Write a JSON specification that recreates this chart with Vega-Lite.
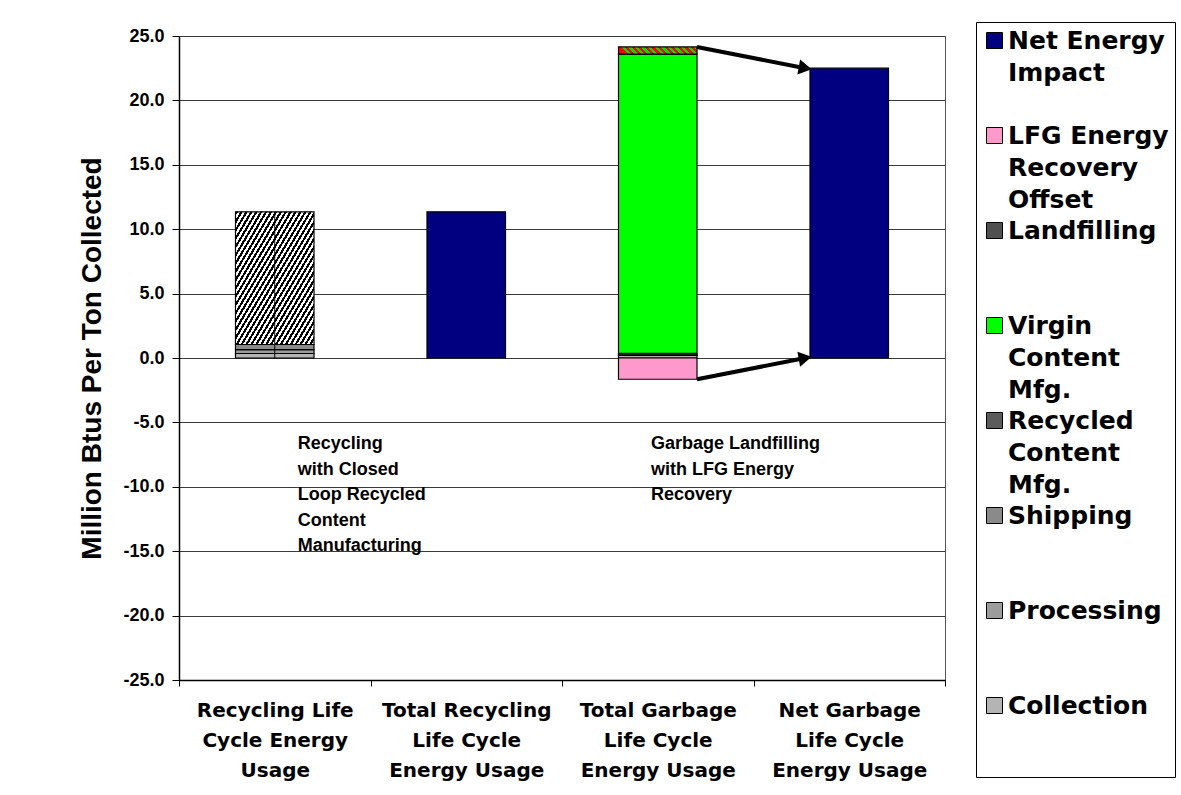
{
  "$schema": "https://vega.github.io/schema/vega-lite/v6.json",
  "width": 766,
  "height": 644,
  "autosize": {"type": "none"},
  "padding": {"left": 179, "top": 36, "right": 236, "bottom": 115},
  "background": "white",
  "datasets": {
    "energy": [
      {"stage": "Recycling Life Cycle Energy Usage", "series": "Collection", "k": 1, "value": 0.35},
      {"stage": "Recycling Life Cycle Energy Usage", "series": "Processing", "k": 2, "value": 0.3},
      {"stage": "Recycling Life Cycle Energy Usage", "series": "Shipping", "k": 3, "value": 0.4},
      {"stage": "Recycling Life Cycle Energy Usage", "series": "Recycled Content Mfg.", "k": 4, "value": 10.3},
      {"stage": "Total Recycling Life Cycle Energy Usage", "series": "Net Energy Impact", "k": 8, "value": 11.35},
      {"stage": "Total Garbage Life Cycle Energy Usage", "series": "Collection", "k": 1, "value": 0.2},
      {"stage": "Total Garbage Life Cycle Energy Usage", "series": "Processing", "k": 2, "value": 0.05},
      {"stage": "Total Garbage Life Cycle Energy Usage", "series": "Shipping", "k": 3, "value": 0.12},
      {"stage": "Total Garbage Life Cycle Energy Usage", "series": "Virgin Content Mfg.", "k": 5, "value": 23.23},
      {"stage": "Total Garbage Life Cycle Energy Usage", "series": "Landfilling", "k": 6, "value": 0.55},
      {"stage": "Total Garbage Life Cycle Energy Usage", "series": "LFG Energy Recovery Offset", "k": 7, "value": -1.65},
      {"stage": "Net Garbage Life Cycle Energy Usage", "series": "Net Energy Impact", "k": 8, "value": 22.5}
    ],
    "arrows": [
      {"from": "Total Garbage Life Cycle Energy Usage", "to": "Net Garbage Life Cycle Energy Usage", "v0": 24.15, "v1": 22.5},
      {"from": "Total Garbage Life Cycle Energy Usage", "to": "Net Garbage Life Cycle Energy Usage", "v0": -1.65, "v1": 0}
    ],
    "notes": [
      {"stage": "Recycling Life Cycle Energy Usage", "note": "Recycling\nwith Closed\nLoop Recycled\nContent\nManufacturing"},
      {"stage": "Total Garbage Life Cycle Energy Usage", "note": "Garbage Landfilling\nwith LFG Energy\nRecovery"}
    ]
  },
  "layer": [
    {
      "data": {"name": "energy"},
      "mark": {"type": "bar", "stroke": "black", "strokeWidth": 1.2, "width": {"band": 0.41}},
      "encoding": {
        "x": {
          "field": "stage",
          "type": "nominal",
          "title": null,
          "scale": {
            "domain": [
              "Recycling Life Cycle Energy Usage",
              "Total Recycling Life Cycle Energy Usage",
              "Total Garbage Life Cycle Energy Usage",
              "Net Garbage Life Cycle Energy Usage"
            ],
            "paddingInner": 0,
            "paddingOuter": 0
          },
          "axis": {
            "labelExpr": "!datum.label ? '' : datum.label === 'Recycling Life Cycle Energy Usage' ? ['Recycling Life', 'Cycle Energy', 'Usage'] : [replace(datum.label, ' Life Cycle Energy Usage', ''), 'Life Cycle', 'Energy Usage']"
          }
        },
        "y": {
          "field": "value",
          "type": "quantitative",
          "stack": "zero",
          "title": "Million Btus Per Ton Collected",
          "scale": {"domain": [-25, 25], "nice": false},
          "axis": {
            "values": [-25, -20, -15, -10, -5, 0, 5, 10, 15, 20, 25],
            "labelExpr": "replace(format(datum.value, '.1f'), '\u2212', '-')"
          }
        },
        "order": {"field": "k", "type": "quantitative"},
        "color": {
          "field": "series",
          "type": "nominal",
          "condition": [
            {
              "test": "datum.series === 'Recycled Content Mfg.'",
              "value": {
                "gradient": "linear", "x1": 0, "y1": 0, "x2": 1, "y2": 1,
                "stops": [
                  {"offset": 0, "color": "#000"}, {"offset": 0.0156, "color": "#000"}, {"offset": 0.0156, "color": "#fff"}, {"offset": 0.0313, "color": "#fff"},
                  {"offset": 0.0313, "color": "#000"}, {"offset": 0.0469, "color": "#000"}, {"offset": 0.0469, "color": "#fff"}, {"offset": 0.0625, "color": "#fff"},
                  {"offset": 0.0625, "color": "#000"}, {"offset": 0.0781, "color": "#000"}, {"offset": 0.0781, "color": "#fff"}, {"offset": 0.0938, "color": "#fff"},
                  {"offset": 0.0938, "color": "#000"}, {"offset": 0.1094, "color": "#000"}, {"offset": 0.1094, "color": "#fff"}, {"offset": 0.125, "color": "#fff"},
                  {"offset": 0.125, "color": "#000"}, {"offset": 0.1406, "color": "#000"}, {"offset": 0.1406, "color": "#fff"}, {"offset": 0.1563, "color": "#fff"},
                  {"offset": 0.1563, "color": "#000"}, {"offset": 0.1719, "color": "#000"}, {"offset": 0.1719, "color": "#fff"}, {"offset": 0.1875, "color": "#fff"},
                  {"offset": 0.1875, "color": "#000"}, {"offset": 0.2031, "color": "#000"}, {"offset": 0.2031, "color": "#fff"}, {"offset": 0.2188, "color": "#fff"},
                  {"offset": 0.2188, "color": "#000"}, {"offset": 0.2344, "color": "#000"}, {"offset": 0.2344, "color": "#fff"}, {"offset": 0.25, "color": "#fff"},
                  {"offset": 0.25, "color": "#000"}, {"offset": 0.2656, "color": "#000"}, {"offset": 0.2656, "color": "#fff"}, {"offset": 0.2813, "color": "#fff"},
                  {"offset": 0.2813, "color": "#000"}, {"offset": 0.2969, "color": "#000"}, {"offset": 0.2969, "color": "#fff"}, {"offset": 0.3125, "color": "#fff"},
                  {"offset": 0.3125, "color": "#000"}, {"offset": 0.3281, "color": "#000"}, {"offset": 0.3281, "color": "#fff"}, {"offset": 0.3438, "color": "#fff"},
                  {"offset": 0.3438, "color": "#000"}, {"offset": 0.3594, "color": "#000"}, {"offset": 0.3594, "color": "#fff"}, {"offset": 0.375, "color": "#fff"},
                  {"offset": 0.375, "color": "#000"}, {"offset": 0.3906, "color": "#000"}, {"offset": 0.3906, "color": "#fff"}, {"offset": 0.4063, "color": "#fff"},
                  {"offset": 0.4063, "color": "#000"}, {"offset": 0.4219, "color": "#000"}, {"offset": 0.4219, "color": "#fff"}, {"offset": 0.4375, "color": "#fff"},
                  {"offset": 0.4375, "color": "#000"}, {"offset": 0.4531, "color": "#000"}, {"offset": 0.4531, "color": "#fff"}, {"offset": 0.4688, "color": "#fff"},
                  {"offset": 0.4688, "color": "#000"}, {"offset": 0.4844, "color": "#000"}, {"offset": 0.4844, "color": "#fff"}, {"offset": 0.5, "color": "#fff"},
                  {"offset": 0.5, "color": "#000"}, {"offset": 0.5156, "color": "#000"}, {"offset": 0.5156, "color": "#fff"}, {"offset": 0.5313, "color": "#fff"},
                  {"offset": 0.5313, "color": "#000"}, {"offset": 0.5469, "color": "#000"}, {"offset": 0.5469, "color": "#fff"}, {"offset": 0.5625, "color": "#fff"},
                  {"offset": 0.5625, "color": "#000"}, {"offset": 0.5781, "color": "#000"}, {"offset": 0.5781, "color": "#fff"}, {"offset": 0.5938, "color": "#fff"},
                  {"offset": 0.5938, "color": "#000"}, {"offset": 0.6094, "color": "#000"}, {"offset": 0.6094, "color": "#fff"}, {"offset": 0.625, "color": "#fff"},
                  {"offset": 0.625, "color": "#000"}, {"offset": 0.6406, "color": "#000"}, {"offset": 0.6406, "color": "#fff"}, {"offset": 0.6563, "color": "#fff"},
                  {"offset": 0.6563, "color": "#000"}, {"offset": 0.6719, "color": "#000"}, {"offset": 0.6719, "color": "#fff"}, {"offset": 0.6875, "color": "#fff"},
                  {"offset": 0.6875, "color": "#000"}, {"offset": 0.7031, "color": "#000"}, {"offset": 0.7031, "color": "#fff"}, {"offset": 0.7188, "color": "#fff"},
                  {"offset": 0.7188, "color": "#000"}, {"offset": 0.7344, "color": "#000"}, {"offset": 0.7344, "color": "#fff"}, {"offset": 0.75, "color": "#fff"},
                  {"offset": 0.75, "color": "#000"}, {"offset": 0.7656, "color": "#000"}, {"offset": 0.7656, "color": "#fff"}, {"offset": 0.7813, "color": "#fff"},
                  {"offset": 0.7813, "color": "#000"}, {"offset": 0.7969, "color": "#000"}, {"offset": 0.7969, "color": "#fff"}, {"offset": 0.8125, "color": "#fff"},
                  {"offset": 0.8125, "color": "#000"}, {"offset": 0.8281, "color": "#000"}, {"offset": 0.8281, "color": "#fff"}, {"offset": 0.8438, "color": "#fff"},
                  {"offset": 0.8438, "color": "#000"}, {"offset": 0.8594, "color": "#000"}, {"offset": 0.8594, "color": "#fff"}, {"offset": 0.875, "color": "#fff"},
                  {"offset": 0.875, "color": "#000"}, {"offset": 0.8906, "color": "#000"}, {"offset": 0.8906, "color": "#fff"}, {"offset": 0.9063, "color": "#fff"},
                  {"offset": 0.9063, "color": "#000"}, {"offset": 0.9219, "color": "#000"}, {"offset": 0.9219, "color": "#fff"}, {"offset": 0.9375, "color": "#fff"},
                  {"offset": 0.9375, "color": "#000"}, {"offset": 0.9531, "color": "#000"}, {"offset": 0.9531, "color": "#fff"}, {"offset": 0.9688, "color": "#fff"},
                  {"offset": 0.9688, "color": "#000"}, {"offset": 0.9844, "color": "#000"}, {"offset": 0.9844, "color": "#fff"}, {"offset": 1, "color": "#fff"}
                ]
              }
            },
            {
              "test": "datum.series === 'Landfilling'",
              "value": {
                "gradient": "linear", "x1": 0, "y1": 0.09, "x2": 1, "y2": 0,
                "stops": [
                  {"offset": 0, "color": "#ff0000"}, {"offset": 0.0417, "color": "#ff0000"}, {"offset": 0.0417, "color": "#00e000"}, {"offset": 0.0833, "color": "#00e000"},
                  {"offset": 0.0833, "color": "#ff0000"}, {"offset": 0.125, "color": "#ff0000"}, {"offset": 0.125, "color": "#00e000"}, {"offset": 0.1667, "color": "#00e000"},
                  {"offset": 0.1667, "color": "#ff0000"}, {"offset": 0.2083, "color": "#ff0000"}, {"offset": 0.2083, "color": "#00e000"}, {"offset": 0.25, "color": "#00e000"},
                  {"offset": 0.25, "color": "#ff0000"}, {"offset": 0.2917, "color": "#ff0000"}, {"offset": 0.2917, "color": "#00e000"}, {"offset": 0.3333, "color": "#00e000"},
                  {"offset": 0.3333, "color": "#ff0000"}, {"offset": 0.375, "color": "#ff0000"}, {"offset": 0.375, "color": "#00e000"}, {"offset": 0.4167, "color": "#00e000"},
                  {"offset": 0.4167, "color": "#ff0000"}, {"offset": 0.4583, "color": "#ff0000"}, {"offset": 0.4583, "color": "#00e000"}, {"offset": 0.5, "color": "#00e000"},
                  {"offset": 0.5, "color": "#ff0000"}, {"offset": 0.5417, "color": "#ff0000"}, {"offset": 0.5417, "color": "#00e000"}, {"offset": 0.5833, "color": "#00e000"},
                  {"offset": 0.5833, "color": "#ff0000"}, {"offset": 0.625, "color": "#ff0000"}, {"offset": 0.625, "color": "#00e000"}, {"offset": 0.6667, "color": "#00e000"},
                  {"offset": 0.6667, "color": "#ff0000"}, {"offset": 0.7083, "color": "#ff0000"}, {"offset": 0.7083, "color": "#00e000"}, {"offset": 0.75, "color": "#00e000"},
                  {"offset": 0.75, "color": "#ff0000"}, {"offset": 0.7917, "color": "#ff0000"}, {"offset": 0.7917, "color": "#00e000"}, {"offset": 0.8333, "color": "#00e000"},
                  {"offset": 0.8333, "color": "#ff0000"}, {"offset": 0.875, "color": "#ff0000"}, {"offset": 0.875, "color": "#00e000"}, {"offset": 0.9167, "color": "#00e000"},
                  {"offset": 0.9167, "color": "#ff0000"}, {"offset": 0.9583, "color": "#ff0000"}, {"offset": 0.9583, "color": "#00e000"}, {"offset": 1, "color": "#00e000"}
                ]
              }
            }
          ],
          "scale": {
            "domain": [
              "Net Energy Impact",
              "LFG Energy Recovery Offset",
              "Landfilling",
              "Virgin Content Mfg.",
              "Recycled Content Mfg.",
              "Shipping",
              "Processing",
              "Collection"
            ],
            "range": ["#000080", "#ff99cc", "#505050", "#00ff00", "#5c5c5c", "#8a8a8a", "#9c9c9c", "#b4b4b4"]
          },
          "legend": {
            "orient": "none",
            "legendX": 797,
            "legendY": -14,
            "title": " ",
            "titleOrient": "bottom",
            "titleFontSize": 36,
            "titlePadding": 17,
            "direction": "vertical",
            "symbolType": "square",
            "symbolSize": 256,
            "symbolStrokeColor": "black",
            "symbolStrokeWidth": 1,
            "symbolOpacity": 1,
            "labelFont": "DejaVu Sans",
            "labelFontSize": 25,
            "labelFontWeight": "bold",
            "labelColor": "black",
            "labelOffset": 1,
            "labelLimit": 300,
            "labelExpr": "datum.label === 'Net Energy Impact' ? ['Net Energy', 'Impact'] : datum.label === 'LFG Energy Recovery Offset' ? ['LFG Energy', 'Recovery', 'Offset'] : split(datum.label, ' ')",
            "encode": {"labels": {"lineHeight": {"value": 32}}},
            "padding": 6,
            "strokeColor": "black",
            "fillColor": "white",
            "rowPadding": 5,
            "gridAlign": "all"
          }
        }
      }
    },
    {
      "data": {"name": "energy"},
      "transform": [
        {"filter": "datum.stage === 'Recycling Life Cycle Energy Usage'"},
        {"aggregate": [{"op": "sum", "field": "value", "as": "total"}], "groupby": ["stage"]}
      ],
      "mark": {"type": "rule", "color": "black", "strokeWidth": 1},
      "encoding": {
        "x": {"field": "stage", "type": "nominal", "title": null},
        "y": {"field": "total", "type": "quantitative", "title": "Million Btus Per Ton Collected"},
        "y2": {"datum": 0}
      }
    },
    {
      "data": {"name": "arrows"},
      "mark": {"type": "rule", "color": "black", "strokeWidth": 4},
      "encoding": {
        "x": {"field": "from", "type": "nominal", "bandPosition": 0.705, "title": null},
        "x2": {"value": {"expr": "scale('x', datum.to) + bandwidth('x') * 0.27"}},
        "y": {"field": "v0", "type": "quantitative", "title": "Million Btus Per Ton Collected"},
        "y2": {"field": "v1"}
      }
    },
    {
      "data": {"name": "arrows"},
      "mark": {"type": "point", "shape": "triangle-right", "filled": true, "color": "black", "size": 230, "opacity": 1},
      "encoding": {
        "x": {"field": "to", "type": "nominal", "bandPosition": 0.27, "title": null},
        "y": {"field": "v1", "type": "quantitative", "title": "Million Btus Per Ton Collected"},
        "angle": {"condition": {"test": "datum.v1 > datum.v0", "value": -10.3}, "value": 10.3}
      }
    },
    {
      "data": {"name": "notes"},
      "transform": [{"filter": "datum.stage === 'Recycling Life Cycle Energy Usage'"}],
      "mark": {"type": "text", "align": "left", "baseline": "top", "lineBreak": "\n", "lineHeight": 25.5, "font": "Liberation Sans", "fontSize": 18, "fontWeight": "bold", "color": "black"},
      "encoding": {
        "x": {"field": "stage", "type": "nominal", "bandPosition": 0.62, "title": null},
        "y": {"datum": -6, "type": "quantitative", "title": "Million Btus Per Ton Collected"},
        "text": {"field": "note", "type": "nominal"}
      }
    },
    {
      "data": {"name": "notes"},
      "transform": [{"filter": "datum.stage === 'Total Garbage Life Cycle Energy Usage'"}],
      "mark": {"type": "text", "align": "left", "baseline": "top", "lineBreak": "\n", "lineHeight": 25.5, "font": "Liberation Sans", "fontSize": 18, "fontWeight": "bold", "color": "black"},
      "encoding": {
        "x": {"field": "stage", "type": "nominal", "bandPosition": 0.465, "title": null},
        "y": {"datum": -6, "type": "quantitative", "title": "Million Btus Per Ton Collected"},
        "text": {"field": "note", "type": "nominal"}
      }
    }
  ],
  "config": {
    "font": "Liberation Sans",
    "style": {"guide-label": {"lineHeight": 32}},
    "view": {"stroke": "#555555", "strokeWidth": 1},
    "axisX": {
      "tickBand": "extent",
      "labelAngle": 0,
      "labelFont": "DejaVu Sans",
      "labelFontSize": 20,
      "labelFontWeight": "bold",
      "labelColor": "black",
      "labelLineHeight": 30,
      "labelPadding": 14,
      "labelLimit": 300,
      "tickSize": 6,
      "tickColor": "black",
      "domainColor": "black",
      "domainWidth": 1.5,
      "grid": false
    },
    "axisY": {
      "grid": true,
      "gridColor": "#3a3a3a",
      "gridWidth": 1,
      "domainColor": "black",
      "domainWidth": 1.5,
      "tickColor": "black",
      "tickSize": 7,
      "labelFont": "Liberation Sans",
      "labelFontSize": 18,
      "labelFontWeight": "bold",
      "labelColor": "black",
      "labelPadding": 8,
      "titleFont": "Liberation Sans",
      "titleFontSize": 28,
      "titleFontWeight": "bold",
      "titleColor": "black",
      "titlePadding": 16
    }
  }
}
